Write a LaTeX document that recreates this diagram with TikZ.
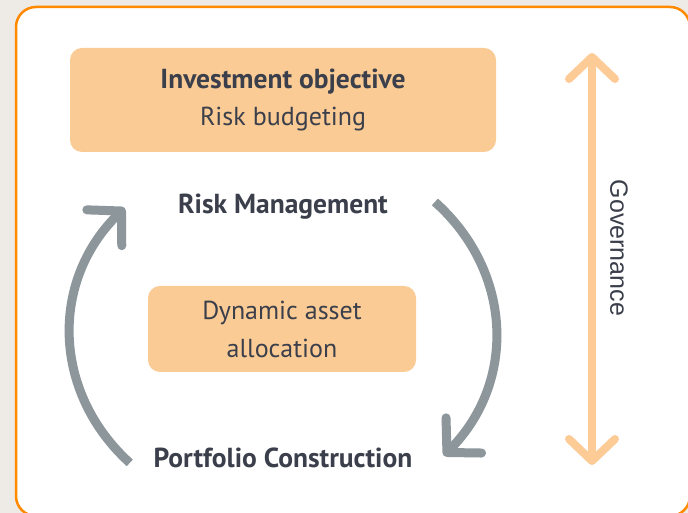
\documentclass[tikz,border=0pt]{standalone}
\usepackage{fontspec}
\setmainfont{PT Sans}
\newfontfamily\govfont{Liberation Sans}
\usepackage{tikz}
\usetikzlibrary{arrows.meta, calc, positioning}

\definecolor{pagegrey}{HTML}{EEEAE6}
\definecolor{frameorange}{HTML}{FF8A00}
\definecolor{boxorange}{HTML}{FACB94}
\definecolor{govorange}{HTML}{FDCB95}
\definecolor{cyclegrey}{HTML}{8C969B}
\definecolor{inkslate}{HTML}{3A3F4B}

\begin{document}
\begin{tikzpicture}[
	x=1pt, y=1pt,
	% Style for the filled orange boxes
	panel/.style={
		rectangle,
		rounded corners=12pt,
		fill=boxorange,
		inner sep=0pt,
		align=center,
		text=inkslate,
		font=\fontsize{26}{37}\selectfont
	},
	% Style for the plain stage labels
	stage/.style={
		inner sep=0pt,
		text=inkslate,
		font=\fontsize{27.5}{30}\selectfont\bfseries
	},
	% Style for the grey cycle arrows
	cycle/.style={
		draw=cyclegrey,
		line width=9pt,
		-{Straight Barb[length=24pt, width=50pt, round]}
	},
	% Style for the governance arrow
	govarrow/.style={
		draw=govorange,
		line width=8pt,
		{Straight Barb[length=22pt, width=46pt, round]}-{Straight Barb[length=22pt, width=46pt, round]}
	}
	]
	
	% --- PAGE AND FRAME ---
	\useasboundingbox (0,0) rectangle (688,513);
	\fill[pagegrey] (0,0) rectangle (688,513);
	\begin{scope}
		\clip (0,0) rectangle (688,513);
		\draw[frameorange, line width=2.5pt, fill=white, rounded corners=20pt] (16,506) rectangle (690,-3);
	\end{scope}
	
	% --- NODES ---
	
	% Objective on top
	\node[panel, minimum width=426pt, minimum height=104pt] (objective) at (283,413)
		{{\fontsize{27.5}{30}\selectfont\bfseries Investment objective}\\Risk budgeting};
	
	% The cycle
	\node[stage] (riskmgmt) at (283,306) {Risk Management};
	\node[panel, minimum width=268pt, minimum height=86pt, font=\fontsize{26}{38}\selectfont] (allocation) at (282,184)
		{Dynamic asset\\allocation};
	\node[stage] (construction) at (283,55) {Portfolio Construction};
	
	% --- ARROWS ---
	
	% Centre of the cycle
	\coordinate (hub) at (283,180);
	
	% Construction -> Risk Management (left side)
	\draw[cycle] ($(hub)+(224:213pt and 187pt)$) arc[start angle=224, end angle=138, x radius=213pt, y radius=187pt];
	
	% Risk Management -> Construction (right side)
	\draw[cycle] ($(hub)+(44.5:213pt and 187pt)$) arc[start angle=44.5, end angle=-41, x radius=213pt, y radius=187pt];
	
	% Governance spans everything
	\coordinate (govtop) at (592,460);
	\coordinate (govbottom) at (592,48);
	\draw[govarrow] (govtop) -- node[pos=0.473, xshift=27pt, rotate=-90, text=inkslate, font=\govfont\fontsize{25}{28}\selectfont] (governance) {Governance} (govbottom);
	
\end{tikzpicture}
\end{document}
